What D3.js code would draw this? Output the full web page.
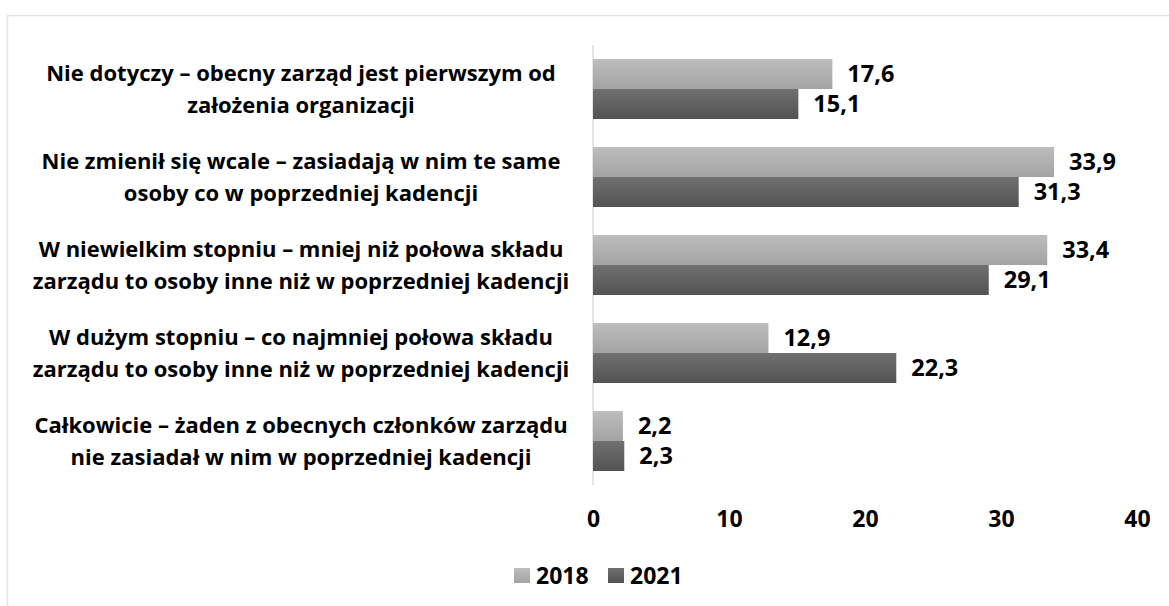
<!DOCTYPE html>
<html>
<head>
<meta charset="utf-8">
<script src="https://cdn.jsdelivr.net/npm/d3@7"></script>
<style>
  body { margin: 0; background: #fff; }
  svg text { font-family: "Open Sans", Lato, sans-serif; font-weight: bold; fill: #000; }
</style>
</head>
<body>
<svg class="chart"></svg>
<script>
// data
const categories = [
  ["Nie dotyczy – obecny zarząd jest pierwszym od", "założenia organizacji"],
  ["Nie zmienił się wcale – zasiadają w nim te same", "osoby co w poprzedniej kadencji"],
  ["W niewielkim stopniu – mniej niż połowa składu", "zarządu to osoby inne niż w poprzedniej kadencji"],
  ["W dużym stopniu – co najmniej połowa składu", "zarządu to osoby inne niż w poprzedniej kadencji"],
  ["Całkowicie – żaden z obecnych członków zarządu", "nie zasiadał w nim w poprzedniej kadencji"]
];
const seriesNames = ["2018", "2021"];
const values2018 = [17.6, 33.9, 33.4, 12.9, 2.2];
const values2021 = [15.1, 31.3, 29.1, 22.3, 2.3];
const xTicks = [0, 10, 20, 30, 40];

const width = 1169, height = 606;
const svg = d3.select(".chart").attr("width", width).attr("height", height);

// light frame round the chart
svg.append("rect")
  .attr("x", 7.5).attr("y", 15.5)
  .attr("width", 1300).attr("height", 700)
  .attr("fill", "none").attr("stroke", "#e1e4e8").attr("stroke-width", 1.5);

// gradients, like the office bars
const defs = svg.append("defs");
const grads = [["g2018", "#bdbdbd", "#a3a3a3"], ["g2021", "#707070", "#525252"]];
grads.forEach(g => {
  const lg = defs.append("linearGradient").attr("id", g[0])
    .attr("x1", 0).attr("y1", 0).attr("x2", 0).attr("y2", 1);
  lg.append("stop").attr("offset", "0%").attr("stop-color", g[1]);
  lg.append("stop").attr("offset", "100%").attr("stop-color", g[2]);
});
const fillOf = { "2018": "url(#g2018)", "2021": "url(#g2021)" };

const x = d3.scaleLinear().domain([0, 40]).range([593, 1137]);
const y = d3.scaleBand()
  .domain(d3.range(categories.length))
  .range([45, 485])
  .paddingInner(0.318)
  .paddingOuter(0.159);
const ySub = d3.scaleBand().domain(seriesNames).range([0, y.bandwidth()]);

const fmt = v => d3.format(".1f")(v).replace(".", ",");

// axis line at zero
svg.append("line")
  .attr("x1", x(0)).attr("x2", x(0))
  .attr("y1", 45).attr("y2", 485)
  .attr("stroke", "#dadde2").attr("stroke-width", 1.5);

const rows = categories.map((c, i) => ({ i, vals: [values2018[i], values2021[i]] }));

const group = svg.selectAll("g.row")
  .data(rows)
  .enter().append("g")
  .attr("class", "row")
  .attr("transform", d => "translate(0," + y(d.i) + ")");

const bar = group.selectAll("g.bar")
  .data(d => seriesNames.map((s, k) => ({ s, v: d.vals[k] })))
  .enter().append("g")
  .attr("class", "bar");

bar.append("rect")
  .attr("x", x(0))
  .attr("y", d => ySub(d.s))
  .attr("width", d => x(d.v) - x(0))
  .attr("height", ySub.bandwidth())
  .attr("fill", d => fillOf[d.s]);

bar.append("text")
  .attr("x", d => x(d.v) + 15)
  .attr("y", d => ySub(d.s) + ySub.bandwidth() / 2)
  .attr("dy", "0.36em")
  .style("font-size", "23.5px")
  .text(d => fmt(d.v));

// category labels, two centred lines
const labels = svg.selectAll("text.cat")
  .data(categories)
  .enter().append("text")
  .attr("class", "cat")
  .attr("text-anchor", "middle")
  .style("font-size", "22px")
  .attr("transform", (d, i) => "translate(301," + (y(i) + y.bandwidth() / 2) + ")");
labels.selectAll("tspan")
  .data(d => d)
  .enter().append("tspan")
  .attr("x", 0)
  .attr("y", (d, k) => (k === 0 ? -16 : 16))
  .attr("dy", "0.36em")
  .text(d => d);

// x axis tick labels, no ticks drawn
const xAxis = d3.axisBottom(x).tickValues(xTicks).tickSize(0).tickPadding(0);
const ax = svg.append("g").attr("transform", "translate(0,508)").call(xAxis);
ax.select(".domain").remove();
ax.selectAll("text").style("font-size", "23px").attr("font-family", null).attr("dy", "0.36em").attr("y", 11);

// legend
const legend = svg.append("g").attr("transform", "translate(514,568)");
const li = legend.selectAll("g")
  .data(seriesNames)
  .enter().append("g")
  .attr("transform", (d, i) => "translate(" + (i * 94) + ",0)");
li.append("rect").attr("width", 16).attr("height", 15).attr("fill", d => fillOf[d]);
li.append("text")
  .attr("x", 22).attr("y", 7.5).attr("dy", "0.36em")
  .style("font-size", "23px")
  .text(d => d);
</script>
</body>
</html>
